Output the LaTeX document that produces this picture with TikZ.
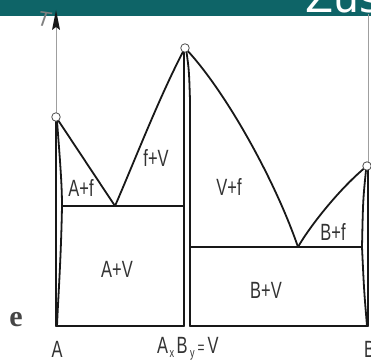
\documentclass[tikz,border=0pt]{standalone}
\usepackage{fontspec}
\setmainfont{Liberation Sans}
\newfontfamily\labelfont[FakeStretch=0.7]{Liberation Sans}
\newfontfamily\serifbold{Liberation Serif}
\newfontfamily\titlefont{DejaVu Sans}
\definecolor{banner}{HTML}{0E6467}
\definecolor{linecol}{HTML}{181818}
\definecolor{lblcol}{HTML}{333333}
\begin{document}
\begin{tikzpicture}[x=1pt,y=-1pt,
  phase/.style={draw=linecol, line width=1.8pt, line join=round, line cap=round},
  axisline/.style={draw=gray!75, line width=1pt},
  lbl/.style={font=\labelfont\fontsize{23.5}{23.5}\selectfont, text=lblcol, inner sep=0pt},
  mp/.style={circle, draw=gray!60!black, fill=white, line width=0.8pt, minimum size=8.5pt, inner sep=0pt}]
\useasboundingbox (0,0) rectangle (371,361);
\clip (0,0) rectangle (371,361);
\fill[white] (0,0) rectangle (371,361);
% banner
\fill[banner] (0,0) rectangle (371,16);
\node[anchor=base west, text=white, font=\titlefont\fontsize{41}{41}\selectfont, inner sep=0pt] (title) at (305,12.5) {Zus};
% key points
\coordinate (Abot) at (56,326);
\coordinate (Atop) at (56,10);
\coordinate (Amp) at (56,117);
\coordinate (Vmp) at (185,48);
\coordinate (Bmp) at (367,166);
\coordinate (e1) at (115,206);
\coordinate (e2) at (298,247);
\coordinate (Bbot) at (368,326);
\coordinate (Btop) at (368,14);
\coordinate (s1) at (62,206);
\coordinate (s2) at (362,247);
% axes
\draw[axisline] (Abot) -- (56,26);
\fill[linecol] (Atop) -- (60,30) -- (56,27) -- (52,30) -- cycle;
\node[font=\itshape\fontsize{21}{21}\selectfont, text=gray, inner sep=0pt, rotate=-8] (T) at (44,19) {T};
\draw[axisline] (Btop) -- (Bbot);
% left solid A
\draw[phase] (56,121) -- (Abot);
\draw[phase] (57,121) .. controls (60,160) and (62,185) .. (s1) .. controls (61,260) and (58,300) .. (57,326);
% liquidus curves
\draw[phase] (Amp) -- (e1);
\draw[phase] (e1) .. controls (135,160) and (160,95) .. (Vmp);
\draw[phase] (Vmp) .. controls (225,90) and (275,180) .. (e2);
\draw[phase] (e2) .. controls (310,226) and (340,188) .. (Bmp);
% right solid B
\draw[phase] (366,170) .. controls (363,200) .. (s2) .. controls (364,290) .. (367,326);
\draw[phase] (368,170) -- (Bbot);
% compound V
\draw[phase] (184,52) -- (184,326);
\draw[phase] (186.5,52) .. controls (189,70) .. (190,100) -- (190,326);
% eutectic lines
\draw[phase] (s1) -- (184,206);
\draw[phase] (190,247) -- (s2);
% base
\draw[phase] (Abot) -- (184,326);
\draw[phase] (190,326) -- (Bbot);
% melting points
\node[mp] (mA) at (Amp) {};
\node[mp] (mV) at (Vmp) {};
\node[mp] (mB) at (Bmp) {};
% region labels
\node[lbl] (lAf) at (81,188) {A+f};
\node[lbl] (lfV) at (156,158) {f+V};
\node[lbl] (lVf) at (229,187) {V+f};
\node[lbl] (lBf) at (333,232) {B+f};
\node[lbl] (lAV) at (117,269) {A+V};
\node[lbl] (lBV) at (266,290) {B+V};
% axis labels
\node[lbl] (xA) at (57,349) {A};
\node[lbl, anchor=west] (xV) at (157,349) {A\kern1.5pt\raisebox{-4pt}{\fontsize{13}{13}\selectfont x}\kern2.5pt B\kern2.5pt\raisebox{-4pt}{\fontsize{13}{13}\selectfont y}\kern3pt{\fontsize{17}{17}\selectfont =}\kern3pt V};
\node[lbl, anchor=west] (xB) at (364,349) {B};
\node[font=\serifbold\bfseries\fontsize{30}{30}\selectfont, text=linecol!80, inner sep=0pt] (le) at (16,320) {e};
\end{tikzpicture}
\end{document}
